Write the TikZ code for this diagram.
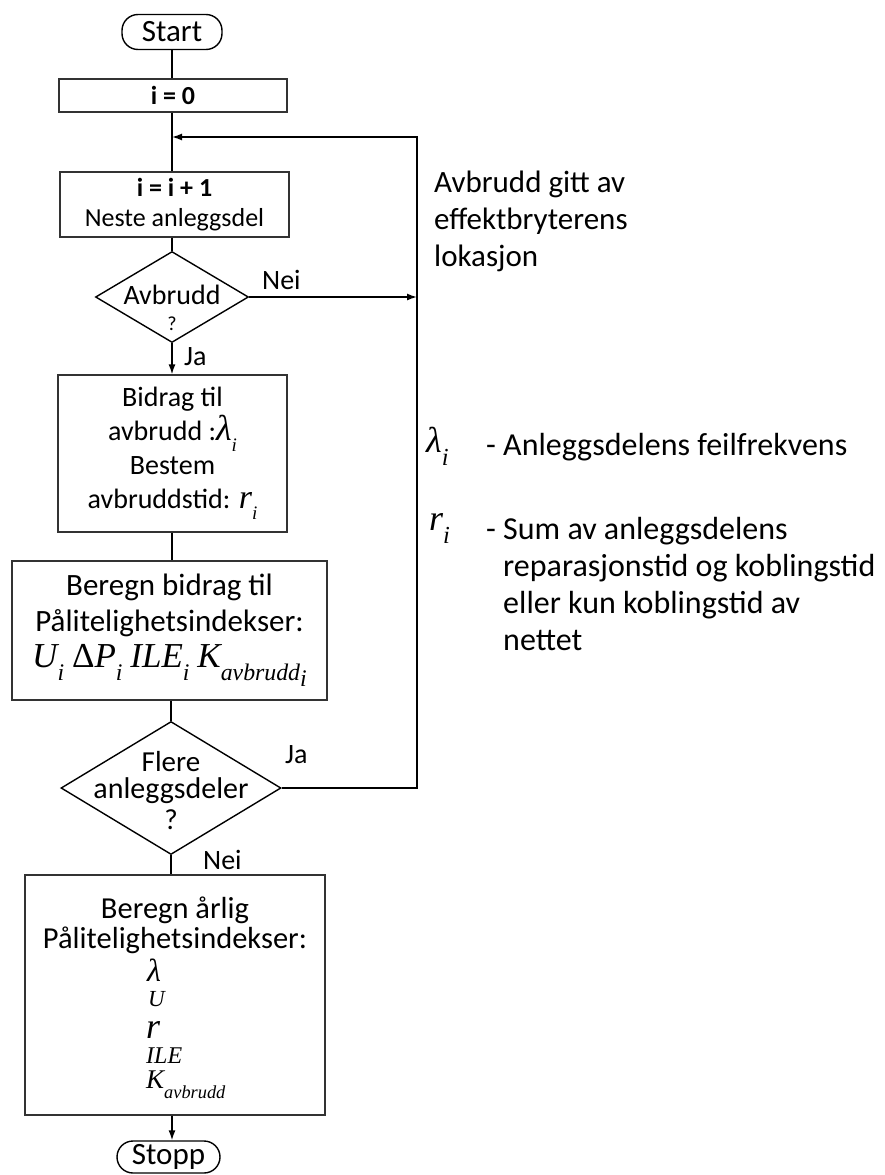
\RequirePackage{fix-cm}
\documentclass[tikz,border=0pt]{standalone}
\usepackage{fontspec}
\setmainfont{Carlito}
\newfontfamily\tnr{Liberation Serif}
\usetikzlibrary{shapes.geometric,arrows.meta}

\newcommand\fsz[2]{\fontsize{#1}{#2}\selectfont}
% italic serif variables with lowered, reduced subscripts
\newcommand\mv[1]{{\tnr\itshape #1}}
\newcommand\msub[1]{\raisebox{-0.38em}{\scalebox{0.68}{\tnr\itshape #1}}}

\begin{document}
\begin{tikzpicture}[x=1pt,y=-1pt,
  box/.style={draw=black!80, line width=1.3pt, fill=white, align=center, inner sep=0pt},
  term/.style={draw, line width=1.4pt, rounded corners=16pt, inner sep=0pt},
  decision/.style={diamond, draw, line width=1.4pt, inner sep=0pt},
  txt/.style={align=center, inner sep=0pt},
  conn/.style={line width=1.4pt},
  arr/.style={conn, -{Latex[length=10pt,width=7pt]}},
  lbl/.style={inner sep=0pt, font=\fsz{28}{30}},
  keytxt/.style={inner sep=0pt, align=left, font=\fsz{32}{37}},
  mathstack/.style={anchor=base west, inner sep=0pt},
]
\useasboundingbox (0,0) rectangle (885,1175);

% flow boxes
\node[term, minimum width=100pt, minimum height=35pt, font=\fsz{31}{31}] (start) at (172,32) {Start};
\node[box, minimum width=228pt, minimum height=33pt, font=\bfseries\fsz{26}{28}] (init) at (173,95.5) {i = 0};
\node[box, minimum width=229pt, minimum height=65pt, font=\fsz{26}{30}] (next) at (174.5,204.5) {\textbf{i = i + 1}\\Neste anleggsdel};

\node[decision, minimum width=153pt, minimum height=91pt] (fault) at (172,297) {};
\node[txt, font=\fsz{28}{26}] (faulttxt) at (172,308) {Avbrudd\\{\fsz{20}{20}?}};

\node[box, minimum width=229pt, minimum height=157pt, font=\fsz{28}{34}] (contrib) at (172.5,453.5)
  {Bidrag til\\avbrudd :{\fsz{36}{34}\mv{λ}}\msub{i}\\Bestem\\avbruddstid: {\fsz{34}{34}\mv{r}}\msub{i}};

\node[box, minimum width=315pt, minimum height=139pt, font=\fsz{31}{36}] (calc) at (169.5,630.5)
  {Beregn bidrag til\\Pålitelighetsindekser:\\%
   {\fsz{35}{36}\mv{U}\msub{i} {\tnr Δ}\mv{P}\msub{i} \mv{ILE}\msub{i} \mv{K}\msub{avbrudd}\raisebox{-0.55em}{\scalebox{0.68}{\tnr\itshape i}}}};

\node[decision, minimum width=220pt, minimum height=133pt] (more) at (171,788) {};
\node[txt, font=\fsz{29}{27}] (moretxt) at (171,791) {Flere\\{\fsz{30}{27}anleggsdeler}\\[4pt]?};

\node[box, minimum width=300pt, minimum height=240pt] (annual) at (175,995) {};
\node[txt, anchor=north, font=\fsz{30.5}{30}] (annualtxt) at (175,897) {Beregn årlig\\Pålitelighetsindekser:};
\node[mathstack, font=\fsz{32}{32}] (mlam) at (147,981) {\mv{λ}};
\node[mathstack, font=\fsz{23}{23}] (mU) at (148,1006) {\mv{U}};
\node[mathstack, font=\fsz{36}{36}] (mr) at (146,1038) {\mv{r}};
\node[mathstack, font=\fsz{24}{24}] (mile) at (146,1063) {\mv{ILE}};
\node[mathstack, font=\fsz{27}{27}] (mk) at (146,1088) {\mv{K}\msub{avbrudd}};

\node[term, minimum width=103pt, minimum height=32pt, font=\fsz{31}{31}] (stop) at (168.5,1157) {Stopp};

% loop-back points
\coordinate (join) at (172,137);
\coordinate (loop) at (417,137);

% connectors
\draw[conn] (start.south -| join) -- (init.north -| join);
\draw[conn] (init.south -| join) -- (next.north -| join);
\draw[conn] (next.south -| join) -- (fault.north);
\draw[arr] (fault.south) -- (fault.south |- contrib.north);
\draw[conn] (contrib.south -| join) -- (calc.north -| join);
\draw[conn] (calc.south -| more) -- (more.north);
\draw[conn] (more.south) -- (more.south |- annual.north);
\draw[arr] (annual.south -| join) -- (join |- stop.north);
\draw[arr] (more.east) -- (more.east -| loop) -- (loop) -- (join);
\draw[arr] (fault.east) -- (fault.east -| loop);

% branch labels
\node[lbl, anchor=west] (nei1) at (262,280) {Nei};
\node[lbl, anchor=west] (ja1) at (184,357) {Ja};
\node[lbl, anchor=west] (ja2) at (285,755) {Ja};
\node[lbl, anchor=west] (nei2) at (203,860) {Nei};

% notes on the right
\node[keytxt, anchor=west, font=\fsz{31}{37}] (note) at (434,221) {Avbrudd gitt av\\effektbryterens\\lokasjon};
\node[mathstack, font=\fsz{36}{36}] (lamkey) at (426,452) {\mv{λ}\msub{i}};
\node[keytxt, anchor=base west] (lamdesc) at (486,455) {- Anleggsdelens feilfrekvens};
\node[mathstack, font=\fsz{36}{36}] (rkey) at (429,530) {\mv{r}\msub{i}};
\node[keytxt, anchor=north west] (rdesc) at (486,517)
  {- Sum av anleggsdelens\\\phantom{- }reparasjonstid og koblingstid\\\phantom{- }eller kun koblingstid av\\\phantom{- }nettet};
\end{tikzpicture}
\end{document}
